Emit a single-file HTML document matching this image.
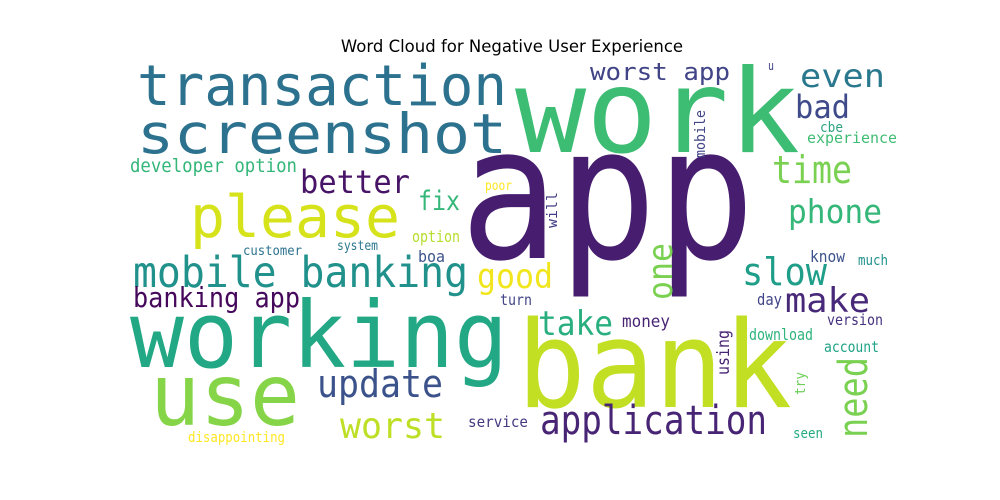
<!DOCTYPE html>
<html><head><meta charset="utf-8"><style>
html,body{margin:0;padding:0;background:#fff;}
svg{display:block;}
text{font-family:"DejaVu Sans Mono","Liberation Mono",monospace;}
</style></head><body>
<svg id="chart" width="1000" height="500">
<text x="512" y="52" text-anchor="middle" font-size="16.5" fill="#000" style="font-family:'DejaVu Sans','Liberation Sans',sans-serif">Word Cloud for Negative User Experience</text>
<g id="words"></g>
</svg>
<script>
const words = ["app","work","bank","working","transaction","screenshot","use","please","mobile banking","application","update","worst","banking app","better","time","phone","even","bad","worst app","slow","make","good","take","one","need","fix","developer option","experience","cbe","mobile","u","poor","will","option","boa","system","customer","turn","money","day","know","much","version","using","download","account","try","seen","service","disappointing"];
const sizes = [185,116,120,92,56,55,86,58,43,40,38,36,28,32,38,33,32,32,24,38,34,34,34,34,40,27,19,15,14,14,12,13,14,16,16,13,13,15,17,16,16,14,15,17,16,15,14,14,15,14];
const colors = ["#471e6f","#3dbc74","#c2df23","#22a884","#2c728e","#2c728e","#86d549","#d6e21a","#21918c","#482475","#3b528b","#bddf26","#45085b","#481467","#7ad151","#35b779","#2a788e","#3e4a89","#414487","#1f9e89","#482878","#f1e51d","#29af7f","#7ad151","#7ad151","#35b779","#34b679","#3fbc73","#2ea37f","#414487","#404387","#fde725","#433e85","#b5de2b","#3b528b","#2a788e","#2c728e","#414487","#482475","#414487","#3b528b","#21918c","#46327e","#482475","#2fb47c","#20a386","#6ece58","#25ab82","#443a83","#fde725"];
// layout: [x, baselineY, textLength, rotated]
const layout = [
[460,258,295,0],[515,152,285,0],[517,407,275,0],[130,367,378,0],[137,105,370,0],[137,153,370,0],[150,425,150,0],[190,237,210,0],[133,287,335,0],[540,434,227,0],[317,397,126,0],[340,438,105,0],[133,307,167,0],[300,193,110,0],[772,183,80,0],[788,223,94,0],[800,87,85,0],[795,118,55,0],[590,80,140,0],[742,285,85,0],[785,312,85,0],[477,288,76,0],[538,335,75,0],[672,300,57,1],[867,438,81,1],[418,210,42,0],[130,172,167,0],[807,143,90,0],[820,132,23,0],[705,158,48,1],[768,70,6,0],[485,190,27,0],[557,228,36,1],[412,242,48,0],[418,262,27,0],[337,250,41,0],[243,255,59,0],[500,305,32,0],[622,327,48,0],[757,305,25,0],[810,262,35,0],[858,265,30,0],[827,325,56,0],[729,375,45,1],[749,340,64,0],[824,352,55,0],[805,395,23,1],[793,438,30,0],[468,427,60,0],[188,442,97,0]
];
const g = document.getElementById('words');
const NS = "http://www.w3.org/2000/svg";
words.forEach((w,i)=>{
  const [x,y,len,rot] = layout[i];
  const t = document.createElementNS(NS,'text');
  t.setAttribute('x',x); t.setAttribute('y',y);
  t.setAttribute('font-size',sizes[i]);
  t.setAttribute('fill',colors[i]);
  t.setAttribute('textLength',len);
  t.setAttribute('lengthAdjust','spacingAndGlyphs');
  if(rot) t.setAttribute('transform','rotate(-90 '+x+' '+y+')');
  t.textContent = w;
  
  
  g.appendChild(t);
});
</script>
</body></html>
